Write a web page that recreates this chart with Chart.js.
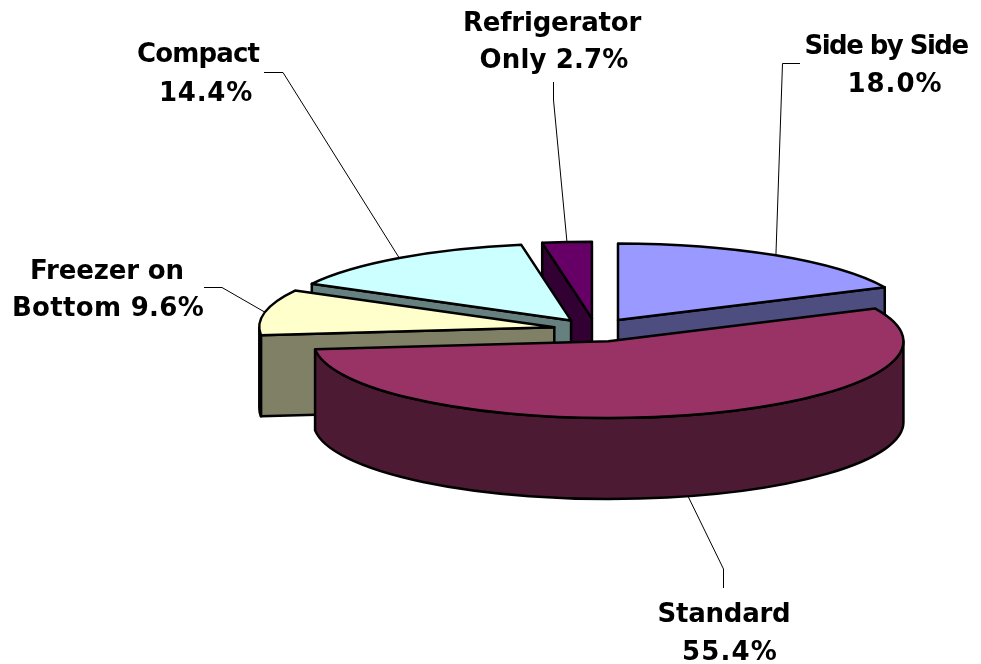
<!DOCTYPE html>
<html>
<head>
<meta charset="utf-8">
<title>Refrigerator types</title>
<script src="https://cdn.jsdelivr.net/npm/chart.js@4/dist/chart.umd.js"></script>
<style>
    html, body { margin: 0; padding: 0; background: #fff; }
    canvas { display: block; }
</style>
</head>
<body>
<canvas id="pie" width="981" height="664"></canvas>
<script>
// datos
const categorias = ['Side by Side', 'Standard', 'Freezer on Bottom', 'Compact', 'Refrigerator Only'];
const valores = [18.0, 55.4, 9.6, 14.4, 2.7];

const coloresCara = ['#9999FF', '#993366', '#FFFFCC', '#CCFFFF', '#660066'];
const coloresLado = ['#4D4D80', '#4D1A33', '#808066', '#668080', '#330033'];
const separacion = [168, 192, 168, 168, 168]; // chart.js mueve el arco offset/4

// orden de pintado, de atras hacia adelante
const ordenPintado = [4, 3, 0, 2, 1];

// etiquetas: texto, centro x, centro y, ancho en pantalla; y el codo de la linea guia
const etiquetas = [
    { lineas: [['Side by Side', 886, 47, 163], ['18.0%', 895, 85, 95]], guia: [[800, 63.5], [782.5, 63.5]] },
    { lineas: [['Standard', 724, 615, 133], ['55.4%', 730, 653, 96]], guia: [[723.5, 588], [723.5, 569]] },
    { lineas: [['Freezer on', 107, 272, 154], ['Bottom 9.6%', 108, 309, 192]], guia: [[204, 287.5], [222, 287.5]] },
    { lineas: [['Compact', 198, 55, 122], ['14.4%', 206, 94, 94]], guia: [[264, 72.5], [283, 72.5]] },
    { lineas: [['Refrigerator', 552, 24, 178], ['Only 2.7%', 554, 61, 149]], guia: [[553.5, 82], [553.5, 100]] }
];

const centroY = 329.3;   // centro de la elipse en pantalla
const aplastado = 0.26;  // relacion alto/ancho de la elipse
const grosor = 81;       // altura del pastel

function geometria(arco) {
    const medio = (arco.startAngle + arco.endAngle) / 2;
    const off = (arco.options.offset || 0) / 4;
    const ax = arco.x + Math.cos(medio) * off;
    const ay = centroY + Math.sin(medio) * off * aplastado;
    return { ax, ay, rx: arco.outerRadius, ry: arco.outerRadius * aplastado, medio };
}

// Pared plana entre el vertice y el borde
function pared(ctx, g, angulo, color) {
    const px = g.ax + Math.cos(angulo) * g.rx;
    const py = g.ay + Math.sin(angulo) * g.ry;
    ctx.beginPath();
    ctx.moveTo(g.ax, g.ay);
    ctx.lineTo(px, py);
    ctx.lineTo(px, py + grosor);
    ctx.lineTo(g.ax, g.ay + grosor);
    ctx.closePath();
    ctx.fillStyle = color;
    ctx.fill();
    ctx.stroke();
}

const pastel3d = {
    id: 'pastel3d',
    beforeDatasetsDraw(chart) {
        const ctx = chart.ctx;
        const arcos = chart.getDatasetMeta(0).data;
        ctx.save();
        ctx.lineWidth = 2.5;
        ctx.lineJoin = 'round';
        ctx.strokeStyle = '#000';

        ordenPintado.forEach(i => {
            const arco = arcos[i];
            const g = geometria(arco);
            const ini = arco.startAngle;
            const fin = arco.endAngle;

            // solo las paredes que miran hacia el frente
            if (Math.cos(ini) < 0) pared(ctx, g, ini, coloresLado[i]);
            if (Math.cos(fin) > 0) pared(ctx, g, fin, coloresLado[i]);

            // costado curvo, solo la parte de abajo de la elipse
            const a0 = Math.max(ini, 0);
            const a1 = Math.min(fin, Math.PI);
            if (a1 > a0) {
                ctx.beginPath();
                ctx.ellipse(g.ax, g.ay, g.rx, g.ry, 0, a0, a1);
                ctx.ellipse(g.ax, g.ay + grosor, g.rx, g.ry, 0, a1, a0, true);
                ctx.closePath();
                ctx.fillStyle = coloresLado[i];
                ctx.fill();
                ctx.stroke();
            }

            // cara superior
            ctx.beginPath();
            ctx.moveTo(g.ax, g.ay);
            ctx.ellipse(g.ax, g.ay, g.rx, g.ry, 0, ini, fin);
            ctx.closePath();
            ctx.fillStyle = arco.options.backgroundColor;
            ctx.fill();
            ctx.stroke();
        });

        // lineas guia, salen del borde del arco
        ctx.lineWidth = 1;
        etiquetas.forEach((et, i) => {
            const g = geometria(arcos[i]);
            let bx = g.ax + Math.cos(g.medio) * g.rx;
            let by = g.ay + Math.sin(g.medio) * g.ry;
            if (Math.sin(g.medio) > 0) by += grosor; // Standard sale del costado
            ctx.beginPath();
            ctx.moveTo(et.guia[0][0], et.guia[0][1]);
            ctx.lineTo(et.guia[1][0], et.guia[1][1]);
            ctx.lineTo(bx, by);
            ctx.stroke();
        });

        // textos, con el espaciado ajustado al ancho de cada linea
        ctx.fillStyle = '#000';
        ctx.font = 'bold 26px "DejaVu Sans"';
        ctx.textAlign = 'center';
        ctx.textBaseline = 'middle';
        etiquetas.forEach(et => {
            et.lineas.forEach(l => {
                ctx.letterSpacing = '0px';
                const ancho = ctx.measureText(l[0]).width;
                ctx.letterSpacing = ((l[3] - ancho) / l[0].length) + 'px';
                ctx.fillText(l[0], l[1], l[2]);
            });
        });
        ctx.restore();
        return false;
    }
};

const chart = new Chart(document.getElementById('pie'), {
    type: 'pie',
    data: {
        labels: categorias,
        datasets: [{
            data: valores,
            backgroundColor: coloresCara,
            borderWidth: 0,
            offset: separacion
        }]
    },
    options: {
        responsive: false,
        animation: false,
        radius: 295,
        layout: { padding: { left: 210 } },
        plugins: {
            legend: { display: false },
            tooltip: { enabled: false }
        }
    },
    plugins: [pastel3d]
});
</script>
</body>
</html>
